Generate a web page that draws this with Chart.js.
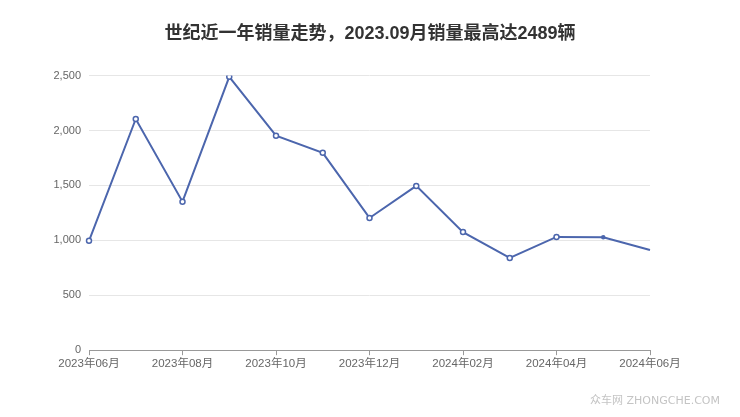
<!DOCTYPE html>
<html>
<head>
<meta charset="utf-8">
<script src="https://cdn.jsdelivr.net/npm/chart.js@4"></script>
<style>
    body { margin: 0; background: #fff; }
    #wrap { position: relative; width: 740px; height: 417px; }
    #mark { position: absolute; right: 20px; top: 391px; font: 11px "DejaVu Sans", "Noto Sans CJK SC", sans-serif; color: #c4c4c4; }
</style>
</head>
<body>
<div id="wrap">
    <canvas id="chart-ventas" width="740" height="417"></canvas>
    <div id="mark">众车网 ZHONGCHE.COM</div>
</div>
<script>
// datos del gráfico
const meses = ['2023年06月', '2023年07月', '2023年08月', '2023年09月', '2023年10月', '2023年11月', '2023年12月',
    '2024年01月', '2024年02月', '2024年03月', '2024年04月', '2024年05月', '2024年06月'];
const ventas = [996, 2105, 1352, 2489, 1953, 1797, 1204, 1496, 1075, 840, 1031, 1029, 912];
const marcadores = [2.5, 2.5, 2.5, 2.5, 2.5, 2.5, 2.5, 2.5, 2.5, 2.5, 2.5, 1.5, 0];
const titulo = '世纪近一年销量走势，2023.09月销量最高达2489辆';

const fuente = '"Liberation Sans", "Noto Sans CJK SC", sans-serif';
const azul = '#4c66ad';

new Chart(document.getElementById('chart-ventas'), {
    type: 'line',
    data: {
        labels: meses,
        datasets: [{
            data: ventas,
            borderColor: azul,
            borderWidth: 2,
            backgroundColor: '#fff',
            pointBorderColor: azul,
            pointBackgroundColor: (ctx) => ctx.dataIndex === 11 ? azul : '#fff',
            pointBorderWidth: 1.5,
            pointRadius: marcadores,
            tension: 0
        }]
    },
    options: {
        responsive: false,
        animation: false,
        layout: { padding: { left: 0, right: 0, top: 9, bottom: 44 } },
        plugins: {
            legend: { display: false },
            tooltip: { enabled: false },
            title: {
                display: true,
                text: titulo,
                color: '#333',
                font: { family: fuente, size: 18, weight: 'bold' },
                padding: { top: 14, bottom: 31 }
            }
        },
        scales: {
            x: {
                offset: false,
                border: { color: '#999', width: 1 },
                grid: {
                    drawOnChartArea: false,
                    tickLength: 5,
                    color: (ctx) => ctx.index % 2 === 0 ? '#999' : 'rgba(0,0,0,0)'
                },
                ticks: {
                    autoSkip: false,
                    maxRotation: 0,
                    padding: 2,
                    color: '#666',
                    font: { family: fuente, size: 11.5 },
                    callback: function(v, i) { return i % 2 === 0 ? meses[i] : ''; }
                }
            },
            y: {
                min: 0,
                max: 2500,
                border: { display: false },
                grid: { color: '#e6e6e6', drawTicks: false },
                ticks: {
                    stepSize: 500,
                    padding: 8,
                    color: '#666',
                    font: { family: fuente, size: 11 },
                    callback: (v) => v.toLocaleString('en-US')
                },
                afterFit: (scale) => { scale.width = 89; }
            },
            // eje vacío para reservar margen derecho
            y1: {
                position: 'right',
                min: 0,
                max: 2500,
                border: { display: false },
                grid: { display: false },
                ticks: { display: false },
                afterFit: (scale) => { scale.width = 90; }
            }
        }
    }
});
</script>
</body>
</html>
